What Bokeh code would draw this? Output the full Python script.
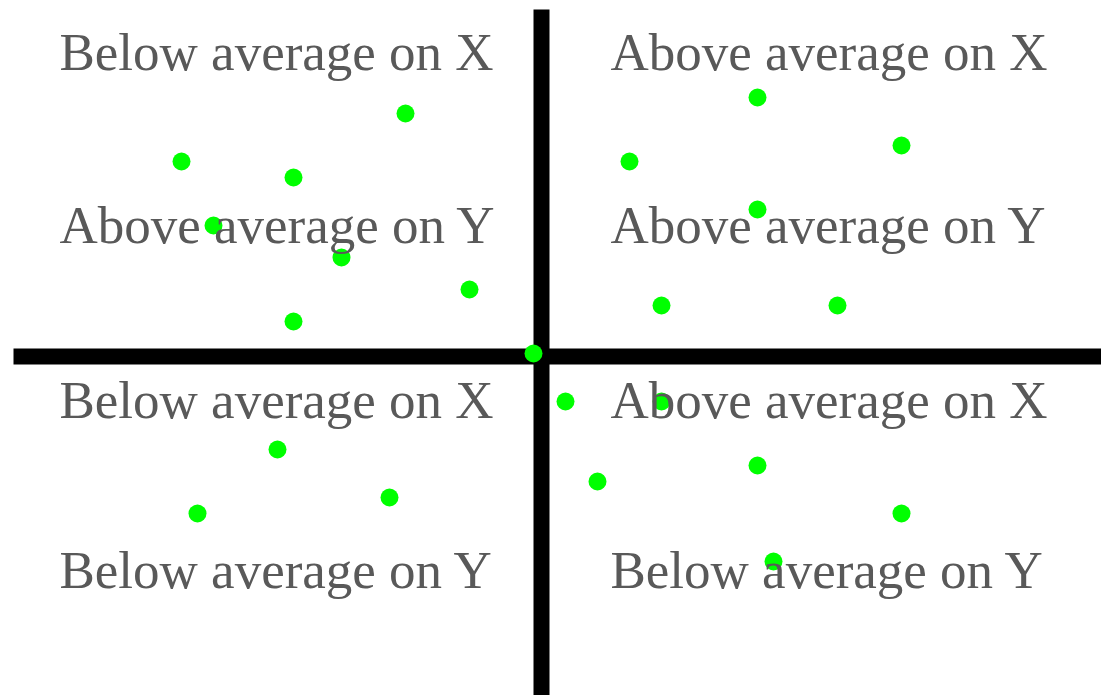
from bokeh.plotting import figure
from bokeh.models import Range1d, Label, ColumnDataSource
from bokeh.embed import file_html
from bokeh.resources import INLINE

# Observations (x, y)
x_vals = [-8, -22, -15, -20, -12, -4, -15,
          14, 6, 23, 14, 8, 19,
          0,
          2, 8, -16, 14, 4, -9, -21, 23, 15]
y_vals = [15, 12, 11, 8, 6, 4, 2,
          16, 12, 13, 9, 3, 3,
          0,
          -3, -3, -6, -7, -8, -9, -10, -10, -13]

# Reference lines splitting the plane into quadrants
x_split = 0.5
y_split = -0.1875

# Quadrant captions: (first line, second line)
quadrant_captions = {
    "upper_left": ("Below average on X", "Above average on Y"),
    "upper_right": ("Above average on X", "Above average on Y"),
    "lower_left": ("Below average on X", "Below average on Y"),
    "lower_right": ("Above average on X", "Below average on Y"),
}

W, H = 1101, 695
p = figure(width=W, height=H, output_backend="svg", toolbar_location=None,
           x_range=Range1d(-33.3125, 35.5), y_range=Range1d(-21.375, 22.0625),
           x_axis_type=None, y_axis_type=None, min_border=0)
p.grid.visible = False
p.outline_line_color = None
p.background_fill_color = "white"
p.border_fill_color = "white"

# Captions (screen positions)
font = "Liberation Serif"
caption_color = "#595959"
caption_size = "53px"
left_x, right_x = 59, 610
rows = {"upper": (51, 224), "lower": (399, 569)}
for key, (l1, l2) in quadrant_captions.items():
    vert, horiz = key.split("_")
    tx = left_x if horiz == "left" else right_x
    for txt, base in zip((l1, l2), rows[vert]):
        p.add_layout(Label(x=tx, y=H - base, x_units="screen", y_units="screen",
                           text=txt, text_font=font, text_font_size=caption_size,
                           text_color=caption_color, text_baseline="alphabetic",
                           text_align="left"))

# Quadrant dividers
p.segment(x0=[x_split], y0=[21.5], x1=[x_split], y1=[-30],
          line_color="black", line_width=16, line_cap="butt")
p.segment(x0=[-32.5], y0=[y_split], x1=[40], y1=[y_split],
          line_color="black", line_width=16, line_cap="butt")

# Points
src = ColumnDataSource(dict(x=x_vals, y=y_vals))
p.scatter("x", "y", source=src, size=18, fill_color="#00ff00", line_color=None)

open("out.html", "w").write(file_html(p, INLINE))
